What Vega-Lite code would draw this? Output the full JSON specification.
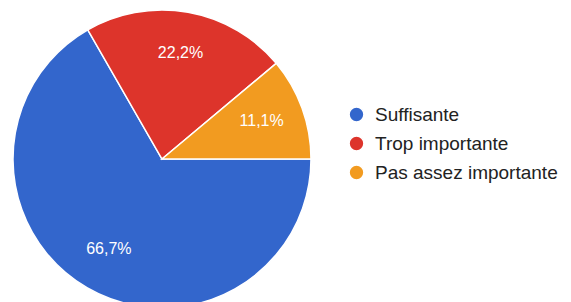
{
  "$schema": "https://vega.github.io/schema/vega-lite/v6.json",
  "width": 324,
  "height": 298,
  "padding": {"left": 0, "top": 7, "right": 0, "bottom": 0},
  "autosize": {"type": "pad"},
  "background": "white",
  "config": {"view": {"stroke": null}, "font": "Liberation Sans"},
  "data": {
    "values": [
      {"ord": 1, "categorie": "Suffisante", "pct": 66.7, "label": "66,7%"},
      {"ord": 2, "categorie": "Trop importante", "pct": 22.2, "label": "22,2%"},
      {"ord": 3, "categorie": "Pas assez importante", "pct": 11.1, "label": "11,1%"}
    ]
  },
  "encoding": {
    "theta": {"field": "pct", "type": "quantitative", "stack": true, "scale": {"range": [1.5708, 7.854]}},
    "order": {"field": "ord", "type": "quantitative", "sort": "ascending"},
    "color": {
      "field": "categorie",
      "type": "nominal",
      "scale": {
        "domain": ["Suffisante", "Trop importante", "Pas assez importante"],
        "range": ["#3366cc", "#dd342b", "#f29b20"]
      },
      "legend": {
        "title": null,
        "orient": "none",
        "legendX": 347,
        "legendY": 95,
        "symbolType": "circle",
        "symbolSize": 220,
        "labelFontSize": 19,
        "labelLimit": 400,
        "labelColor": "#222222",
        "rowPadding": 8,
        "symbolOffset": 0,
        "labelOffset": 9
      }
    }
  },
  "layer": [
    {"mark": {"type": "arc", "stroke": "white", "strokeWidth": 1.5}},
    {
      "mark": {"type": "text", "radius": 106, "dy": -2, "fontSize": 16, "color": "white"},
      "encoding": {"text": {"field": "label", "type": "nominal"}, "color": {"value": "white"}}
    }
  ]
}
